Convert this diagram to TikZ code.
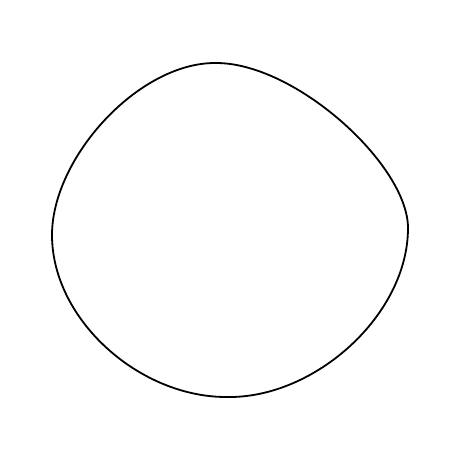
\documentclass[tikz,border=0pt]{standalone}
\usepackage{tikz}
\usetikzlibrary{positioning}

\tikzset{outline/.style={draw, line width=1.8pt, line join=round}}

\begin{document}
\begin{tikzpicture}[x=1pt, y=-1pt]
\useasboundingbox (0,0) rectangle (450,450);
\coordinate (top) at (215,63);
\coordinate (right) at (408,228);
\coordinate (bottom) at (228,397);
\coordinate (left) at (52,235);
\draw[outline] (top)
  .. controls (295,62) and (408,165) .. (right)
  .. controls (408,315) and (315,398) .. (bottom)
  .. controls (140,398) and (52,320) .. (left)
  .. controls (52,158) and (138,63) .. (top) -- cycle;
\end{tikzpicture}
\end{document}
